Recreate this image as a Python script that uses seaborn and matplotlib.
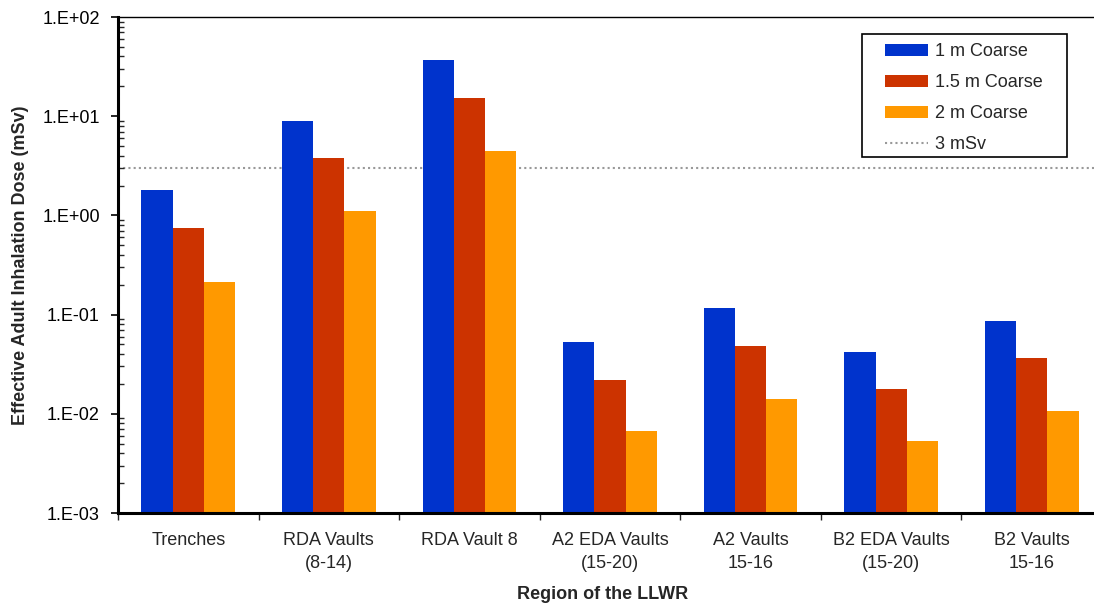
import numpy as np
import pandas as pd
import matplotlib
matplotlib.use("Agg")
import matplotlib.pyplot as plt
import matplotlib.ticker as mticker
from matplotlib.patches import Rectangle
import seaborn as sns

regions = ["Trenches", "RDA Vaults\n(8-14)", "RDA Vault 8", "A2 EDA Vaults\n(15-20)",
           "A2 Vaults\n15-16", "B2 EDA Vaults\n(15-20)", "B2 Vaults\n15-16"]
series = ["1 m Coarse", "1.5 m Coarse", "2 m Coarse"]
dose_1m = [1.79, 8.9, 36.8, 0.0533, 0.117, 0.0423, 0.087]
dose_15m = [0.74, 3.77, 15.2, 0.022, 0.0486, 0.0178, 0.0368]
dose_2m = [0.215, 1.1, 4.43, 0.0067, 0.0141, 0.00533, 0.0107]
threshold = 3.0
threshold_label = "3 mSv"
colors = ["#0033CC", "#CC3300", "#FF9900"]

rows = []
for s, vals in zip(series, [dose_1m, dose_15m, dose_2m]):
    for r, v in zip(regions, vals):
        rows.append({"Region": r, "Series": s, "Dose": v})
df = pd.DataFrame(rows)

sns.set_theme(style="white")
plt.rcParams["font.family"] = ["Liberation Sans", "DejaVu Sans"]

fig = plt.figure(figsize=(10.94, 6.06), dpi=100)
W, H = 1094, 606
ax = fig.add_axes([118 / W, 1 - 513 / H, (1102 - 118) / W, (513 - 17) / H])
ax.set_yscale("log")

sns.barplot(data=df, x="Region", y="Dose", hue="Series", order=regions, hue_order=series,
            palette=colors, width=0.667, saturation=1, ax=ax, linewidth=0, legend=True)

ax.axhline(threshold, color="#999999", linestyle=(0, (1, 1.5)), linewidth=1.5, label=threshold_label, zorder=0.5)

ax.set_ylim(1e-3, 1e2)
ax.set_xlim(-0.5, len(regions) - 0.5)

ax.yaxis.set_major_locator(mticker.LogLocator(base=10, numticks=10))
ax.yaxis.set_minor_locator(mticker.LogLocator(base=10, subs=np.arange(2, 10), numticks=20))
ax.yaxis.set_minor_formatter(mticker.NullFormatter())
ax.yaxis.set_major_formatter(mticker.FuncFormatter(lambda v, p: "1.E{:+03d}".format(int(round(np.log10(v))))))

ax.tick_params(axis="y", which="major", direction="out", length=5, width=1.2, labelsize=13, pad=8, colors="black", left=True)
ax.tick_params(axis="y", which="minor", direction="in", length=4, width=1, left=True)
ax.xaxis.set_minor_locator(mticker.FixedLocator(np.arange(-0.5, len(regions), 1.0)))
ax.tick_params(axis="x", which="major", length=0, labelsize=13, pad=14)
ax.tick_params(axis="x", which="minor", direction="out", length=5, width=1, bottom=True)
for lab in ax.get_xticklabels():
    lab.set_linespacing(1.45)

for side in ["left", "bottom"]:
    ax.spines[side].set_linewidth(2.2)
    ax.spines[side].set_color("black")
ax.spines["top"].set_linewidth(1)
ax.spines["top"].set_color("black")
ax.spines["right"].set_visible(False)

ax.set_xlabel("Region of the LLWR", fontsize=13, fontweight="bold")
ax.xaxis.set_label_coords((603 - 118) / 984, (513 - 586) / 496)
ax.set_ylabel("Effective Adult Inhalation Dose (mSv)", fontsize=13, fontweight="bold", va="center")
ax.yaxis.set_label_coords((21 - 118) / 984, 0.5)

handles, labels = ax.get_legend_handles_labels()
order = [labels.index(s) for s in series] + [labels.index(threshold_label)]
leg = ax.legend([handles[i] for i in order], [labels[i] for i in order],
                loc="upper left", bbox_to_anchor=(876 / W, 1 - 34 / H), bbox_transform=fig.transFigure,
                frameon=False, fontsize=13, handlelength=2.4, handleheight=0.65, handletextpad=0.35,
                labelspacing=0.78, borderpad=0.0)
fig.patches.append(Rectangle((862 / W, 1 - 157 / H), (1067 - 862) / W, (157 - 34) / H,
                             transform=fig.transFigure, fill=False, edgecolor="black", linewidth=1.2))

fig.savefig("out.png", dpi=100)
